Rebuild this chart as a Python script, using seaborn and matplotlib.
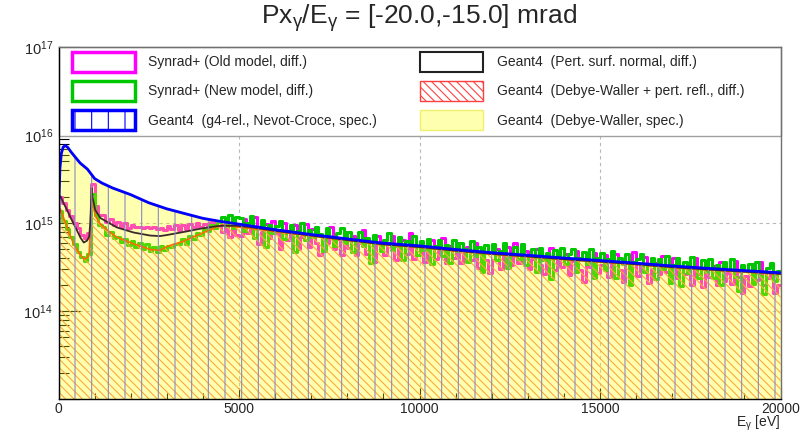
import numpy as np
import matplotlib
matplotlib.use("Agg")
import matplotlib.pyplot as plt
import seaborn as sns
from matplotlib.patches import Patch, Rectangle
from matplotlib.ticker import FixedLocator, NullFormatter, LogLocator, MultipleLocator

sns.set_theme(style="white")
plt.rcParams["font.family"] = ["Liberation Sans", "DejaVu Sans"]
plt.rcParams["mathtext.fontset"] = "custom"
plt.rcParams["mathtext.rm"] = "Liberation Sans"
plt.rcParams["mathtext.it"] = "Liberation Sans:italic"
plt.rcParams["mathtext.bf"] = "Liberation Sans:bold"
plt.rcParams["hatch.linewidth"] = 0.8

UNIT = 1e14          # all values below are in units of 1e14
YMIN, YMAX = 1e13, 1e17
XMAX = 20000
BIN_WIDTH = 100

TITLE = r"Px$_{\mathrm{γ}}$/E$_{\mathrm{γ}}$ = [-20.0,-15.0] mrad"
XLABEL = r"E$_{\mathrm{γ}}$ [eV]"
X_TICKS = [0, 5000, 10000, 15000, 20000]
Y_TICKS = [1e13, 1e14, 1e15, 1e16, 1e17]
Y_TICK_LABELS = ["", r"$10^{14}$", r"$10^{15}$", r"$10^{16}$", r"$10^{17}$"]

LABELS = [
    "Synrad+ (Old model, diff.)",
    "Synrad+ (New model, diff.)",
    "Geant4  (g4-rel., Nevot-Croce, spec.)",
    "Geant4  (Pert. surf. normal, diff.)",
    "Geant4  (Debye-Waller + pert. refl., diff.)",
    "Geant4  (Debye-Waller, spec.)",
]

# specular curves (smooth)
SPEC_E = [0, 15, 40, 80, 130, 190, 260, 350, 450, 600, 800, 1000, 1200, 1500,
          2000, 2500, 3000, 3500, 4000, 4500, 5000, 6000, 7000, 8000, 9000,
          10000, 11000, 12000, 13000, 14000, 15000, 16000, 17000, 18000,
          19000, 20000]
G4_NEVOT = [0.1, 20, 42, 62, 73, 76, 72, 64, 57, 48, 41, 32, 28.5, 25,
            21, 17, 14.5, 12.8, 11.3, 10.4, 9.7, 8.4, 7.4, 6.6, 5.9,
            5.5, 5.0, 4.6, 4.3, 4.0, 3.75, 3.5, 3.25, 3.05, 2.88, 2.72]
G4_DW_SPEC = [0.1, 19.6, 41, 61, 71.5, 74.5, 70.5, 62.7, 55.9, 47, 40.2, 31.4, 27.9, 24.5,
              20.6, 16.7, 14.2, 12.5, 11.1, 10.2, 9.5, 8.23, 7.25, 6.47, 5.78,
              5.39, 4.9, 4.51, 4.21, 3.92, 3.68, 3.43, 3.19, 2.99, 2.82, 2.67]

# diffuse Geant4 curves (smooth)
DIFF_E = [0, 55, 150, 240, 330, 420, 520, 610, 700, 790, 850, 880, 920, 950,
          1020, 1160, 1400, 1620, 2080, 2540, 2810, 3000, 3460, 3920, 4380,
          4550, 4930, 5300, 6000, 7000, 8000, 9000, 10000, 11000, 12000,
          13000, 14000, 15000, 16000, 17000, 18000, 19000, 20000]
G4_PERT_NORMAL = [20.8, 20, 16.5, 14, 11.6, 9.8, 8.1, 6.8, 6.0, 6.3, 7.0, 10, 25, 19,
                  14, 11.4, 10.0, 8.9, 7.8, 7.2, 7.1, 7.3, 7.9, 8.6, 9.2,
                  9.3, 9.3, 9.0, 8.15, 7.2, 6.4, 5.72, 5.33, 4.85, 4.46,
                  4.17, 3.88, 3.64, 3.4, 3.15, 2.96, 2.8, 2.64]
G4_DW_PERT = [15.2, 14.3, 11.2, 8.9, 7.1, 5.8, 4.9, 4.3, 3.9, 4.0, 4.6, 8.0, 24, 17,
              12, 9.7, 8.0, 6.9, 5.8, 5.0, 4.9, 5.4, 6.2, 7.5, 9.0,
              9.5, 9.0, 8.7, 8.0, 7.1, 6.35, 5.68, 5.28, 4.8, 4.42,
              4.12, 3.84, 3.6, 3.37, 3.12, 2.93, 2.77, 2.61]

# Synrad+ histograms, 100 eV bins from 0 to 20000 eV
SYNRAD_NEW = [
    13.8, 10.6, 8.5, 7.0, 5.7, 4.7, 4.1, 3.7, 4.4, 21.5,
    12.2, 9.6, 9.1, 7.4, 7.9, 6.7, 7.0, 6.1, 6.6, 5.6,
    6.2, 5.3, 6.0, 5.0, 5.7, 4.8, 5.4, 4.7, 5.5, 4.9,
    5.5, 5.3, 5.8, 5.8, 6.6, 5.7, 7.1, 6.6, 7.6, 7.3,
    8.4, 8.2, 9.6, 8.7, 10.4, 11.8, 9.2, 12.3, 8.8, 11.6,
    11.5, 8.1, 10.1, 12.0, 6.8, 8.8, 10.8, 5.4, 9.6, 7.6,
    9.2, 10.6, 6.5, 8.05, 9.4, 4.7, 8.1, 9.9, 6.4, 8.3,
    7.0, 8.9, 7.55, 4.8, 8.8, 6.95, 5.5, 7.6, 8.85, 5.85,
    7.85, 4.65, 6.65, 8.0, 5.5, 6.8, 3.55, 7.25, 6.0, 4.75,
    6.35, 7.6, 4.9, 5.45, 6.85, 3.75, 6.2, 5.6, 7.1, 4.3,
    6.3, 4.9, 6.65, 3.4, 5.5, 6.35, 4.25, 5.65, 3.55, 6.4,
    4.75, 5.9, 5.0, 3.6, 6.25, 4.2, 5.3, 2.8, 5.6, 4.6,
    5.7, 3.75, 4.8, 5.85, 3.1, 4.45, 5.3, 3.85, 5.75, 3.3,
    4.3, 5.0, 2.8, 5.2, 3.8, 4.55, 2.3, 4.9, 3.95, 5.15,
    3.45, 4.45, 5.05, 2.8, 3.95, 4.7, 3.45, 5.05, 2.35, 4.05,
    4.55, 2.95, 3.85, 4.75, 2.4, 4.05, 3.4, 4.45, 1.95, 3.6,
    3.85, 4.5, 2.8, 3.4, 4.05, 2.3, 3.85, 3.0, 4.2, 2.1,
    3.3, 4.05, 1.9, 3.6, 2.7, 4.1, 3.1, 2.35, 3.75, 2.75,
    3.9, 2.4, 3.3, 1.95, 3.6, 2.95, 3.9, 2.45, 1.7, 3.3,
    2.85, 3.4, 2.05, 3.65, 2.5, 1.55, 3.1, 3.5, 2.2, 2.85,
]
SYNRAD_OLD = [
    19.5, 16.8, 14.2, 12.1, 10.0, 8.7, 7.3, 6.7, 7.6, 28.0,
    15.8, 12.3, 12.3, 10.4, 11.0, 9.6, 10.3, 9.1, 9.9, 8.8,
    9.4, 9.0, 9.1, 8.8, 8.9, 8.7, 9.0, 8.5, 8.8, 8.4,
    9.3, 8.6, 9.6, 8.4, 9.5, 8.6, 9.8, 8.9, 9.9, 9.0,
    9.8, 9.0, 10.4, 8.8, 10.6, 7.8, 9.8, 7.0, 9.2, 7.4,
    7.2, 11.2, 7.65, 9.2, 11.65, 5.8, 7.95, 9.75, 6.7, 10.5,
    7.7, 5.1, 9.95, 6.45, 8.1, 9.4, 5.1, 6.9, 9.65, 5.35,
    8.5, 5.95, 4.3, 7.1, 6.0, 9.05, 5.1, 6.5, 4.3, 7.95,
    5.25, 7.15, 4.35, 5.95, 8.3, 4.45, 6.15, 3.65, 7.2, 5.1,
    4.35, 5.85, 7.05, 3.8, 5.15, 6.35, 4.5, 7.6, 3.9, 5.5,
    4.7, 3.6, 5.35, 6.4, 3.9, 4.8, 6.7, 3.5, 5.5, 4.0,
    6.0, 3.55, 4.5, 5.35, 3.75, 6.0, 3.05, 4.7, 3.8, 2.7,
    3.75, 5.1, 3.0, 4.2, 5.35, 3.3, 6.0, 3.5, 4.15, 4.75,
    3.0, 3.9, 5.05, 3.35, 2.6, 4.15, 5.15, 2.95, 4.45, 3.2,
    4.4, 2.55, 3.7, 4.75, 2.95, 2.15, 3.85, 3.2, 4.55, 2.7,
    3.3, 4.3, 2.45, 3.5, 4.5, 2.9, 2.15, 3.55, 2.7, 4.65,
    2.5, 3.45, 4.15, 2.1, 3.0, 3.55, 2.6, 4.25, 2.75, 2.3,
    4.0, 2.4, 3.2, 2.6, 3.5, 2.0, 4.05, 2.65, 1.85, 3.25,
    2.45, 3.25, 2.0, 3.6, 2.2, 2.7, 2.05, 3.7, 2.45, 1.6,
    2.5, 1.9, 3.4, 2.25, 3.6, 1.95, 2.35, 2.8, 1.6, 1.95,
]

C_MAG = "#ff00ff"
C_GREEN = "#00c800"
C_BLUE = "#0000ff"
C_BLUE_HATCH = "#8a8ac6"
C_RED = "#ff2a00"
C_RED_HATCH = "#ff8060"
C_YELLOW = "#ffff00"
HATCH_DIAG = "\\" * 4
HATCH_VERT = "|"

W, H = 806, 432
fig = plt.figure(figsize=(W / 100, H / 100), dpi=100)
L, R, T, B = 58.5, 780.5, 47, 399
ax = fig.add_axes([L / W, 1 - B / H, (R - L) / W, (B - T) / H])
ax.set_facecolor("white")

edges = np.arange(0, XMAX + BIN_WIDTH, BIN_WIDTH)
def step_y(vals):
    v = np.asarray(vals) * UNIT
    return np.append(v, v[-1])

spec_e = np.asarray(SPEC_E)
diff_e = np.asarray(DIFF_E)

# Synrad+ histograms (drawn first, then the translucent yellow fill over them)
sns.lineplot(x=edges, y=step_y(SYNRAD_OLD), drawstyle="steps-post", color=C_MAG,
             lw=2.2, estimator=None, ax=ax, legend=False, zorder=2)
sns.lineplot(x=edges, y=step_y(SYNRAD_NEW), drawstyle="steps-post", color=C_GREEN,
             lw=2.2, estimator=None, ax=ax, legend=False, zorder=3)

# Geant4 Debye-Waller + pert. refl. (red hatch)
ax.fill_between(diff_e, YMIN, np.asarray(G4_DW_PERT) * UNIT, facecolor="none",
                edgecolor=C_RED_HATCH, hatch=HATCH_DIAG, lw=0, zorder=4)
sns.lineplot(x=diff_e, y=np.asarray(G4_DW_PERT) * UNIT, color=C_RED, lw=1.2,
             estimator=None, ax=ax, legend=False, zorder=4)

# Geant4 Debye-Waller spec (translucent yellow)
ax.fill_between(spec_e, YMIN, np.asarray(G4_DW_SPEC) * UNIT, facecolor=C_YELLOW,
                alpha=0.31, lw=0, zorder=5)
sns.lineplot(x=spec_e, y=np.asarray(G4_DW_SPEC) * UNIT, color="#d8c850", lw=1.0,
             estimator=None, ax=ax, legend=False, zorder=5)

# Geant4 pert. surf. normal (black)
sns.lineplot(x=diff_e, y=np.asarray(G4_PERT_NORMAL) * UNIT, color="#3a2a2a", lw=1.3,
             estimator=None, ax=ax, legend=False, zorder=6)

# Geant4 g4-rel Nevot-Croce (blue vertical hatch)
ax.fill_between(spec_e, YMIN, np.asarray(G4_NEVOT) * UNIT, facecolor="none",
                edgecolor=C_BLUE_HATCH, hatch=HATCH_VERT, lw=0, zorder=6)
sns.lineplot(x=spec_e, y=np.asarray(G4_NEVOT) * UNIT, color=C_BLUE, lw=2.0,
             estimator=None, ax=ax, legend=False, zorder=7)

ax.set_yscale("log")
ax.set_xlim(0, XMAX)
ax.set_ylim(YMIN, YMAX)

ax.xaxis.set_major_locator(FixedLocator(X_TICKS))
ax.xaxis.set_minor_locator(MultipleLocator(1000))
ax.set_xticklabels([str(t) for t in X_TICKS], fontsize=10)
ax.yaxis.set_major_locator(FixedLocator(Y_TICKS))
ax.set_yticklabels(Y_TICK_LABELS, fontsize=10.5)
ax.yaxis.set_minor_locator(LogLocator(base=10, subs=np.arange(2, 10)))
ax.yaxis.set_minor_formatter(NullFormatter())
ax.tick_params(axis="y", which="major", direction="in", length=15, width=0.8,
               color="black", pad=4, left=True, right=False)
ax.tick_params(axis="y", which="minor", direction="in", length=7, width=0.8,
               color="black", left=True, right=False)
ax.tick_params(axis="x", which="major", direction="in", length=8, width=0.8,
               color="black", pad=2, bottom=True, top=False)
ax.tick_params(axis="x", which="minor", direction="in", length=4, width=0.8,
               color="black", bottom=True, top=False)
ax.grid(True, which="major", linestyle=(0, (3, 3)), color="#b8b8b8", lw=0.8, zorder=1)
for name, s in ax.spines.items():
    s.set_visible(True)
    s.set_color("black" if name in ("left", "bottom") else "#707070")
    s.set_linewidth(1.0)
    s.set_zorder(20)
ax.set_xlabel("")
ax.set_ylabel("")

# legend box across the top of the frame
ax.add_patch(Rectangle((0, 1 - (136 - T) / (B - T)), 1, (136 - T) / (B - T),
                       transform=ax.transAxes, facecolor="white", edgecolor="#a0a0a0",
                       lw=1.0, zorder=15, clip_on=False))
handles = [
    Patch(facecolor="white", edgecolor=C_MAG, lw=2.5),
    Patch(facecolor="white", edgecolor=C_GREEN, lw=2.5),
    Patch(facecolor="white", edgecolor=C_BLUE, lw=2.5, hatch=HATCH_VERT),
    Patch(facecolor="white", edgecolor="#222222", lw=1.5),
    Patch(facecolor="white", edgecolor="#ff4040", lw=1.0, hatch=HATCH_DIAG),
    Patch(facecolor="#ffffb0", edgecolor="#f0f070", lw=1.0),
]
leg = ax.legend(handles, LABELS, ncol=2, loc="upper left",
                bbox_to_anchor=((72 - L) / (R - L), 1 - (51.5 - T) / (B - T)),
                frameon=False, fontsize=10, handlelength=4.5, handleheight=1.84,
                handletextpad=1.0, labelspacing=0.68, columnspacing=3.1,
                borderpad=0, borderaxespad=0)
leg.set_zorder(16)

fig.text((L + R) / 2 / W, 1 - 18 / H, TITLE, ha="center", va="center", fontsize=19)
fig.text(R / W, 1 - 426.5 / H, XLABEL, ha="right", va="baseline", fontsize=10)

fig.savefig("out.png", dpi=100)
